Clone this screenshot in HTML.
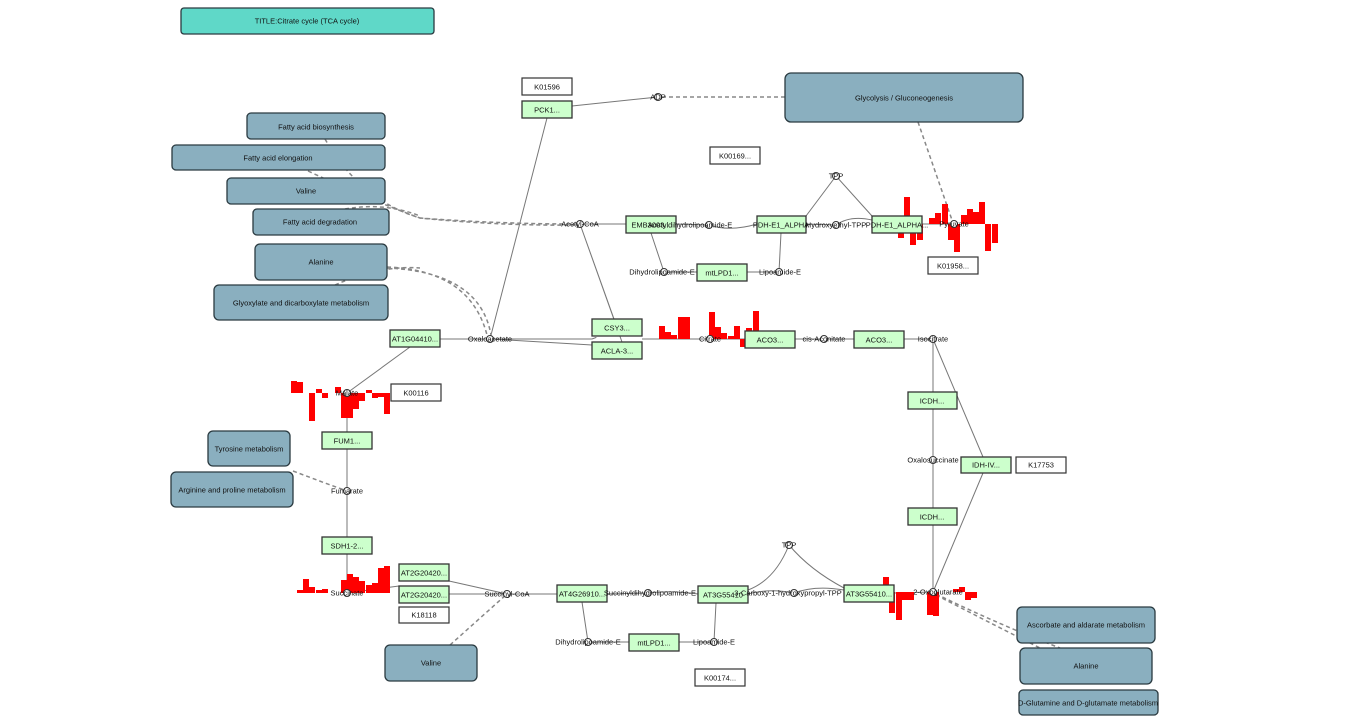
<!DOCTYPE html>
<html><head><meta charset="utf-8"><style>
html,body{margin:0;padding:0;background:#fff;}
svg{display:block;font-family:"Liberation Sans",sans-serif;}
.pw{fill:#8aafbf;stroke:#2a3a40;stroke-width:1.3;}
.g{fill:#ccffcc;stroke:#333;stroke-width:1.3;}
.w{fill:#fff;stroke:#333;stroke-width:1.2;}
.e{stroke:#777;stroke-width:1;fill:none;}
.d{stroke:#888;stroke-width:1.5;fill:none;stroke-dasharray:4,3;}
.c{fill:#fff;stroke:#333;stroke-width:1;}
text{font-size:7.5px;fill:#111;}
.t{text-anchor:middle;dominant-baseline:central;}
.b rect{fill:#ff0000;}
</style></head><body>
<svg width="1357" height="724" viewBox="0 0 1357 724">
<rect x="181" y="8" width="253" height="26" rx="3" fill="#5fd8c8" stroke="#2a3a40" stroke-width="1.3"/>
<text class="t" x="307" y="21">TITLE:Citrate cycle (TCA cycle)</text>

<path class="e" d="M572 106 L658 97"/>
<path class="e" d="M547 118 L490 339"/>
<path class="e" d="M584 224 L626 224 M676 224 L709 225 M709 225 Q730 232 757 224 M806 224 L836 225 M836 225 Q850 215 872 220 M922 224 L954 224"/>
<path class="e" d="M806 216 L836 176 L872 216"/>
<path class="e" d="M781 233 L779 272 M747 272 L779 272 M664 272 L697 272 M651 233 L664 272"/>
<path class="e" d="M580 224 L614 319 M580 224 L622 342"/>
<path class="e" d="M440 339 L592 339 Q600 336 592 339 M490 339 L592 345 M642 339 L710 339 L745 339 M795 339 L854 339 M904 339 L933 339"/>
<path class="e" d="M933 339 L933 392 M933 409 L933 508 M933 525 L933 592 M933 339 L983 457 M983 473 L933 592"/>
<path class="e" d="M410 347 L347 393 M347 393 L347 432 M347 449 L347 537 M347 554 L347 593"/>
<path class="e" d="M347 593 L399 586 M449 581 L507 594 M449 594 L507 594 M507 594 L557 594 M607 594 L648 593 M648 593 Q670 590 698 594"/>
<path class="e" d="M582 602 L588 642 L629 642 M679 642 L714 642 L716 603"/>
<path class="e" d="M748 590 Q775 580 789 545 Q810 570 844 588 M748 594 Q770 588 794 593 Q815 585 844 590 M894 593 L933 592"/>

<path class="d" d="M820 97 L660 97"/>
<path class="d" d="M918 122 L952 220"/>
<path class="d" d="M325 139 Q360 200 420 218 Q500 224 575 224"/>
<path class="d" d="M308 171 Q370 200 420 218 Q500 226 575 225"/>
<path class="d" d="M345 209 Q385 202 420 216"/>
<path class="d" d="M387 267 Q470 270 487 335 M387 268 Q480 272 491 335 M335 285 Q380 265 420 268"/>
<path class="d" d="M293 471 Q330 485 347 491"/>
<path class="d" d="M450 645 L507 594"/>
<path class="d" d="M936 594 Q1000 625 1060 648 M936 595 Q1000 628 1040 648"/>

<g class="b">
<rect x="898" y="224" width="6" height="14"/><rect x="904" y="197" width="6" height="27"/><rect x="910" y="224" width="6" height="21"/><rect x="917" y="224" width="6" height="16"/><rect x="929" y="218" width="6" height="6"/><rect x="935" y="213" width="6" height="11"/><rect x="942" y="204" width="6" height="20"/><rect x="948" y="224" width="6" height="16"/><rect x="954" y="224" width="6" height="28"/><rect x="961" y="215" width="6" height="9"/><rect x="967" y="209" width="6" height="15"/><rect x="973" y="212" width="6" height="12"/><rect x="979" y="202" width="6" height="22"/><rect x="985" y="224" width="6" height="27"/><rect x="992" y="224" width="6" height="19"/>
<rect x="659" y="326" width="6" height="13"/><rect x="665" y="332" width="6" height="7"/><rect x="671" y="335" width="6" height="4"/><rect x="678" y="317" width="6" height="22"/><rect x="684" y="317" width="6" height="22"/><rect x="709" y="312" width="6" height="27"/><rect x="715" y="327" width="6" height="12"/><rect x="721" y="333" width="6" height="6"/><rect x="728" y="336" width="6" height="3"/><rect x="734" y="326" width="6" height="13"/><rect x="740" y="339" width="6" height="8"/><rect x="746" y="328" width="6" height="11"/><rect x="753" y="311" width="6" height="28"/>
<rect x="291" y="381" width="6" height="12"/><rect x="297" y="382" width="6" height="11"/><rect x="309" y="393" width="6" height="28"/><rect x="316" y="389" width="6" height="4"/><rect x="322" y="393" width="6" height="5"/><rect x="335" y="387" width="6" height="6"/><rect x="341" y="393" width="6" height="25"/><rect x="347" y="393" width="6" height="25"/><rect x="353" y="393" width="6" height="16"/><rect x="359" y="393" width="6" height="8"/><rect x="366" y="390" width="6" height="3"/><rect x="372" y="393" width="6" height="5"/><rect x="378" y="393" width="6" height="4"/><rect x="384" y="393" width="6" height="21"/>
<rect x="297" y="590" width="6" height="3"/><rect x="303" y="579" width="6" height="14"/><rect x="309" y="587" width="6" height="6"/><rect x="316" y="590" width="6" height="3"/><rect x="322" y="589" width="6" height="4"/><rect x="341" y="580" width="6" height="13"/><rect x="347" y="574" width="6" height="19"/><rect x="353" y="577" width="6" height="16"/><rect x="359" y="581" width="6" height="12"/><rect x="366" y="585" width="6" height="8"/><rect x="372" y="583" width="6" height="10"/><rect x="378" y="568" width="6" height="25"/><rect x="384" y="566" width="6" height="27"/>
<rect x="883" y="577" width="6" height="15"/><rect x="889" y="592" width="6" height="21"/><rect x="896" y="592" width="6" height="28"/><rect x="902" y="592" width="6" height="8"/><rect x="908" y="592" width="6" height="8"/><rect x="927" y="592" width="6" height="23"/><rect x="933" y="592" width="6" height="24"/><rect x="953" y="589" width="6" height="3"/><rect x="959" y="587" width="6" height="5"/><rect x="965" y="592" width="6" height="8"/><rect x="971" y="592" width="6" height="6"/>
</g>

<g>
<rect class="pw" x="785" y="73" width="238" height="49" rx="6"/><text class="t" x="904" y="98">Glycolysis / Gluconeogenesis</text>
<rect class="pw" x="247" y="113" width="138" height="26" rx="4"/><text class="t" x="316" y="127">Fatty acid biosynthesis</text>
<rect class="pw" x="172" y="145" width="213" height="25" rx="4"/><text class="t" x="278" y="158">Fatty acid elongation</text>
<rect class="pw" x="227" y="178" width="158" height="26" rx="4"/><text class="t" x="306" y="191">Valine</text>
<rect class="pw" x="253" y="209" width="136" height="26" rx="4"/><text class="t" x="320" y="222">Fatty acid degradation</text>
<rect class="pw" x="255" y="244" width="132" height="36" rx="5"/><text class="t" x="321" y="262">Alanine</text>
<rect class="pw" x="214" y="285" width="174" height="35" rx="5"/><text class="t" x="301" y="303">Glyoxylate and dicarboxylate metabolism</text>
<rect class="pw" x="208" y="431" width="82" height="35" rx="5"/><text class="t" x="249" y="449">Tyrosine metabolism</text>
<rect class="pw" x="171" y="472" width="122" height="35" rx="5"/><text class="t" x="232" y="490">Arginine and proline metabolism</text>
<rect class="pw" x="385" y="645" width="92" height="36" rx="5"/><text class="t" x="431" y="663">Valine</text>
<rect class="pw" x="1017" y="607" width="138" height="36" rx="5"/><text class="t" x="1086" y="625">Ascorbate and aldarate metabolism</text>
<rect class="pw" x="1020" y="648" width="132" height="36" rx="5"/><text class="t" x="1086" y="666">Alanine</text>
<rect class="pw" x="1019" y="690" width="139" height="25" rx="4"/><text class="t" x="1088" y="703">D-Glutamine and D-glutamate metabolism</text>
</g>

<g>
<rect class="g" x="522" y="101" width="50" height="17"/><text class="t" x="547" y="110">PCK1...</text>
<rect class="g" x="626" y="216" width="50" height="17"/><text class="t" x="651" y="225">EMB3003...</text>
<rect class="g" x="757" y="216" width="49" height="17"/><text class="t" x="781" y="225">PDH-E1_ALPHA</text>
<rect class="g" x="872" y="216" width="50" height="17"/><text class="t" x="897" y="225">PDH-E1_ALPHA...</text>
<rect class="g" x="697" y="264" width="50" height="17"/><text class="t" x="722" y="273">mtLPD1...</text>
<rect class="g" x="592" y="319" width="50" height="17"/><text class="t" x="617" y="328">CSY3...</text>
<rect class="g" x="592" y="342" width="50" height="17"/><text class="t" x="617" y="351">ACLA-3...</text>
<rect class="g" x="745" y="331" width="50" height="17"/><text class="t" x="770" y="340">ACO3...</text>
<rect class="g" x="854" y="331" width="50" height="17"/><text class="t" x="879" y="340">ACO3...</text>
<rect class="g" x="390" y="330" width="50" height="17"/><text class="t" x="415" y="339">AT1G04410...</text>
<rect class="g" x="908" y="392" width="49" height="17"/><text class="t" x="932" y="401">ICDH...</text>
<rect class="g" x="961" y="457" width="50" height="16"/><text class="t" x="986" y="465">IDH-IV...</text>
<rect class="g" x="908" y="508" width="49" height="17"/><text class="t" x="932" y="517">ICDH...</text>
<rect class="g" x="322" y="432" width="50" height="17"/><text class="t" x="347" y="441">FUM1...</text>
<rect class="g" x="322" y="537" width="50" height="17"/><text class="t" x="347" y="546">SDH1-2...</text>
<rect class="g" x="399" y="564" width="50" height="17"/><text class="t" x="424" y="573">AT2G20420...</text>
<rect class="g" x="399" y="586" width="50" height="17"/><text class="t" x="424" y="595">AT2G20420...</text>
<rect class="g" x="557" y="585" width="50" height="17"/><text class="t" x="582" y="594">AT4G26910...</text>
<rect class="g" x="698" y="586" width="50" height="17"/><text class="t" x="723" y="595">AT3G55410</text>
<rect class="g" x="844" y="585" width="50" height="17"/><text class="t" x="869" y="594">AT3G55410...</text>
<rect class="g" x="629" y="634" width="50" height="17"/><text class="t" x="654" y="643">mtLPD1...</text>
</g>

<g>
<rect class="w" x="522" y="78" width="50" height="17"/><text class="t" x="547" y="87">K01596</text>
<rect class="w" x="710" y="147" width="50" height="17"/><text class="t" x="735" y="156">K00169...</text>
<rect class="w" x="928" y="257" width="50" height="17"/><text class="t" x="953" y="266">K01958...</text>
<rect class="w" x="391" y="384" width="50" height="17"/><text class="t" x="416" y="393">K00116</text>
<rect class="w" x="1016" y="457" width="50" height="16"/><text class="t" x="1041" y="465">K17753</text>
<rect class="w" x="399" y="607" width="50" height="16"/><text class="t" x="424" y="615">K18118</text>
<rect class="w" x="695" y="669" width="50" height="17"/><text class="t" x="720" y="678">K00174...</text>
</g>

<g>
<circle class="c" cx="658" cy="97" r="3.5"/><text class="t" x="658" y="97">ADP</text>
<circle class="c" cx="580" cy="224" r="3.5"/><text class="t" x="580" y="224">Acetyl-CoA</text>
<circle class="c" cx="709" cy="225" r="3.5"/><text class="t" x="690" y="225">Acetyldihydrolipoamide-E</text>
<circle class="c" cx="836" cy="225" r="3.5"/><text class="t" x="836" y="225">Hydroxyethyl-TPP</text>
<circle class="c" cx="836" cy="176" r="3.5"/><text class="t" x="836" y="176">TPP</text>
<circle class="c" cx="954" cy="224" r="3.5"/><text class="t" x="954" y="224">Pyruvate</text>
<circle class="c" cx="664" cy="272" r="3.5"/><text class="t" x="662" y="272">Dihydrolipoamide-E</text>
<circle class="c" cx="779" cy="272" r="3.5"/><text class="t" x="780" y="272">Lipoamide-E</text>
<circle class="c" cx="490" cy="339" r="3.5"/><text class="t" x="490" y="339">Oxaloacetate</text>
<circle class="c" cx="710" cy="339" r="3.5"/><text class="t" x="710" y="339">Citrate</text>
<circle class="c" cx="824" cy="339" r="3.5"/><text class="t" x="824" y="339">cis-Aconitate</text>
<circle class="c" cx="933" cy="339" r="3.5"/><text class="t" x="933" y="339">Isocitrate</text>
<circle class="c" cx="933" cy="460" r="3.5"/><text class="t" x="933" y="460">Oxalosuccinate</text>
<circle class="c" cx="933" cy="592" r="3.5"/><text class="t" x="938" y="592">2-Oxoglutarate</text>
<circle class="c" cx="347" cy="393" r="3.5"/><text class="t" x="347" y="393">Malate</text>
<circle class="c" cx="347" cy="491" r="3.5"/><text class="t" x="347" y="491">Fumarate</text>
<circle class="c" cx="347" cy="593" r="3.5"/><text class="t" x="347" y="593">Succinate</text>
<circle class="c" cx="507" cy="594" r="3.5"/><text class="t" x="507" y="594">Succinyl-CoA</text>
<circle class="c" cx="648" cy="593" r="3.5"/><text class="t" x="650" y="593">Succinyldihydrolipoamide-E</text>
<circle class="c" cx="789" cy="545" r="3.5"/><text class="t" x="789" y="545">TPP</text>
<circle class="c" cx="794" cy="593" r="3.5"/><text class="t" x="788" y="593">3-Carboxy-1-hydroxypropyl-TPP</text>
<circle class="c" cx="588" cy="642" r="3.5"/><text class="t" x="588" y="642">Dihydrolipoamide-E</text>
<circle class="c" cx="714" cy="642" r="3.5"/><text class="t" x="714" y="642">Lipoamide-E</text>
</g>
</svg>
</body></html>
